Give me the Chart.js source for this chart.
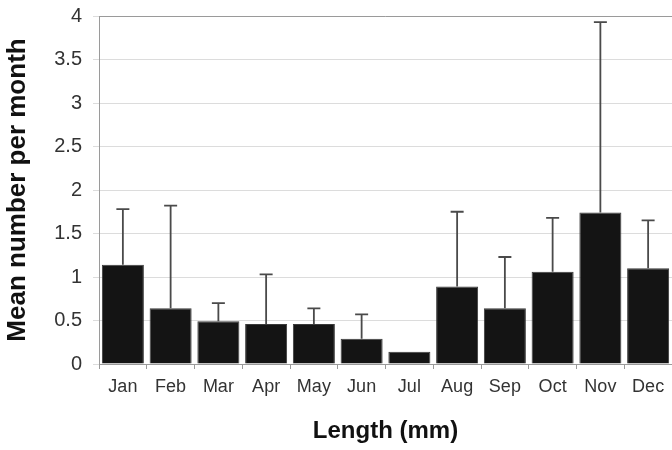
<!DOCTYPE html>
<html>
<head>
<meta charset="utf-8">
<script src="https://cdn.jsdelivr.net/npm/chart.js@4"></script>
<style>
  html, body { margin: 0; padding: 0; background: #fff; }
  #wrap { width: 672px; height: 450px; }
</style>
</head>
<body>
<div id="wrap"><canvas id="chart"></canvas></div>
<script>
let months = ['Jan', 'Feb', 'Mar', 'Apr', 'May', 'Jun', 'Jul', 'Aug', 'Sep', 'Oct', 'Nov', 'Dec'];
let meanValues = [1.14, 0.64, 0.49, 0.46, 0.46, 0.29, 0.14, 0.89, 0.64, 1.06, 1.74, 1.10];
let upperValues = [1.78, 1.82, 0.70, 1.03, 0.64, 0.57, null, 1.75, 1.23, 1.68, 3.93, 1.65];

let barColor = '#141414';
let errColor = '#4a4a4a';
let gridColor = '#dcdcdc';
let axisColor = '#9a9a9a';

Chart.defaults.font.family = '"Liberation Sans", Arial, sans-serif';
Chart.defaults.color = '#333';

// draws the upper error whiskers over each bar
let errorBars = {
  id: 'errorBars',
  afterDatasetsDraw(chart) {
    let ctx = chart.ctx;
    let meta = chart.getDatasetMeta(0);
    let y = chart.scales.y;
    ctx.save();
    ctx.strokeStyle = errColor;
    ctx.lineWidth = 1.8;
    meta.data.forEach((bar, i) => {
      let up = upperValues[i];
      if (up === null) return;
      let yTop = y.getPixelForValue(up);
      ctx.beginPath();
      ctx.moveTo(bar.x, bar.y);
      ctx.lineTo(bar.x, yTop);
      ctx.moveTo(bar.x - 6.5, yTop);
      ctx.lineTo(bar.x + 6.5, yTop);
      ctx.stroke();
    });
    ctx.restore();
  }
};

new Chart('chart', {
  type: 'bar',
  data: {
    labels: months,
    datasets: [{
      data: meanValues,
      backgroundColor: barColor,
      borderColor: '#3a3a3a',
      borderWidth: 1,
      barPercentage: 0.88,
      categoryPercentage: 1
    }]
  },
  options: {
    responsive: true,
    maintainAspectRatio: false,
    animation: false,
    layout: { padding: { top: 16, right: 0, left: 0, bottom: 0 } },
    plugins: {
      legend: { display: false },
      tooltip: { enabled: false }
    },
    scales: {
      x: {
        grid: {
          offset: true,
          drawOnChartArea: false,
          tickLength: 5,
          color: axisColor
        },
        border: { color: axisColor },
        ticks: {
          font: { size: 18 },
          color: '#333',
          padding: 7
        },
        title: {
          display: true,
          text: 'Length (mm)',
          font: { size: 24, weight: 'bold' },
          color: '#111',
          padding: { top: 0, bottom: 4 }
        },
        afterFit(scale) { scale.height = 86; }
      },
      y: {
        min: 0,
        max: 4,
        ticks: {
          stepSize: 0.5,
          font: { size: 20 },
          color: '#333',
          padding: 11,
          callback: value => String(value)
        },
        grid: {
          color: gridColor,
          tickLength: 6
        },
        border: { color: axisColor },
        title: {
          display: true,
          text: 'Mean number per month',
          font: { size: 26, weight: 'bold' },
          color: '#111',
          padding: { top: 2, bottom: 0 }
        },
        afterFit(scale) {
          scale.width = 99;
          scale.paddingTop = 0;
          scale.paddingBottom = 0;
        }
      }
    }
  },
  plugins: [errorBars, {
    id: 'frame',
    afterDraw(chart) {
      let a = chart.chartArea;
      let ctx = chart.ctx;
      ctx.save();
      ctx.strokeStyle = axisColor;
      ctx.lineWidth = 1;
      ctx.beginPath();
      ctx.moveTo(a.left, a.top + 0.5);
      ctx.lineTo(a.right, a.top + 0.5);
      ctx.stroke();
      ctx.restore();
    }
  }]
});
</script>
</body>
</html>
